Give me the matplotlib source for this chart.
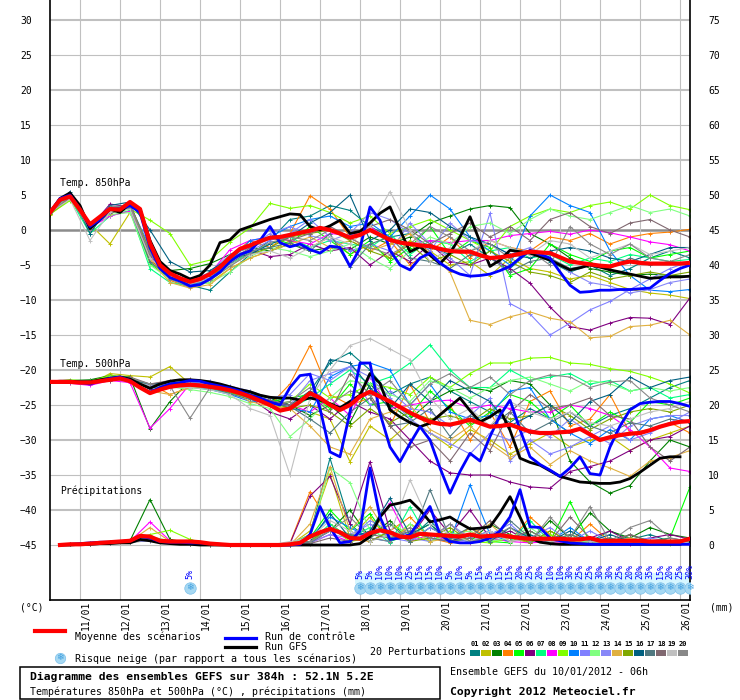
import matplotlib
matplotlib.use("Agg")
import matplotlib.pyplot as plt
from matplotlib.lines import Line2D
from matplotlib.patches import Rectangle

plt.rcParams["font.family"] = ["DejaVu Sans Mono", "DejaVu Sans"]

nan = float("nan")
W, H = 740, 700

# ---- time axes (hours since 10/01/2012 06h) ----
HOURS_6 = list(range(0, 385, 6))
HOURS_6_RR = list(range(6, 385, 6))
HOURS_12 = list(range(0, 385, 12))
HOURS_12_RR = list(range(12, 385, 12))

DAY_HOURS = list(range(18, 385, 24))
DAY_LABELS = ["11/01", "12/01", "13/01", "14/01", "15/01", "16/01", "17/01", "18/01",
              "19/01", "20/01", "21/01", "22/01", "23/01", "24/01", "25/01", "26/01"]

# ---- mean / control / GFS, 6h steps ----
T850_MEAN = [2.5, 4.3, 4.8, 2.9, 0.8, 1.9, 3.0, 2.9, 4.0, 3.0,
             -1.9, -5.0, -6.2, -6.9, -7.4, -7.0, -6.3, -5.3, -3.9, -2.7,
             -2.2, -1.6, -1.1, -1.0, -0.7, -0.4, -0.1, 0.3, 0.0, -0.5,
             -1.1, -0.7, 0.0, -0.7, -1.4, -1.8, -2.0, -2.2, -2.3, -2.7,
             -3.0, -3.1, -3.1, -3.6, -4.0, -3.9, -3.7, -3.4, -3.1, -3.2,
             -3.3, -3.9, -4.5, -4.7, -4.9, -5.1, -5.2, -4.8, -4.5, -4.7,
             -4.8, -4.8, -4.8, -4.8, -4.7]
T850_CTRL = [2.5, 4.5, 5.0, 3.0, 0.5, 1.5, 3.0, 3.0, 3.5, 2.5,
             -2.5, -5.5, -6.8, -7.3, -8.0, -7.8, -7.0, -6.0, -4.5, -3.5,
             -3.0, -1.5, 0.5, -1.8, -2.4, -2.0, -2.8, -3.3, -2.3, -2.5,
             -5.2, -2.6, 3.3, 1.4, -2.9, -5.0, -5.7, -4.0, -3.3, -4.7,
             -5.7, -6.3, -6.6, -6.5, -6.3, -5.8, -5.2, -4.0, -2.9, -3.5,
             -4.0, -6.0, -7.9, -8.9, -8.8, -8.6, -8.6, -8.5, -8.5, -8.4,
             -8.3, -7.2, -6.2, -5.5, -5.0]
T850_GFS = [2.5, 4.5, 5.3, 3.5, 0.2, 1.5, 3.0, 2.5, 3.8, 3.0,
            -1.5, -4.5, -5.8, -6.3, -7.0, -6.5, -5.0, -1.8, -1.4, 0.0,
            0.5, 1.0, 1.5, 1.9, 2.3, 2.2, 0.5, 0.0, 0.6, 1.4,
            -0.5, -0.2, 1.0, 2.4, 3.3, 0.0, -3.1, -2.4, -3.6, -4.8,
            -3.3, -1.0, 1.9, -1.7, -5.2, -4.3, -2.9, -3.1, -3.3, -3.8,
            -4.3, -5.0, -5.7, -5.4, -5.0, -5.3, -5.7, -6.0, -6.3, -6.6,
            -6.9, -6.8, -6.7, -6.7, -6.6]

T500_MEAN = [-21.7, -21.7, -21.7, -21.8, -21.8, -21.6, -21.4, -21.2, -21.6, -22.5,
             -23.3, -22.8, -22.4, -22.2, -22.1, -22.2, -22.4, -22.6, -22.9, -23.3,
             -23.8, -24.4, -25.0, -25.8, -25.5, -24.5, -23.3, -24.0, -25.0, -25.7,
             -25.0, -23.8, -23.1, -23.8, -24.5, -25.3, -26.1, -26.8, -27.4, -27.7,
             -27.8, -27.5, -27.1, -27.6, -28.1, -28.0, -27.8, -28.3, -28.8, -29.0,
             -29.0, -28.9, -28.8, -28.4, -29.2, -30.0, -29.6, -29.3, -29.1, -29.0,
             -28.6, -28.1, -27.7, -27.4, -27.3]
T500_CTRL = [-21.7, -21.7, -21.8, -21.8, -22.0, -21.6, -21.2, -21.0, -21.5, -22.5,
             -23.2, -22.5, -22.0, -21.8, -21.5, -21.6, -22.0, -22.3, -22.6, -23.0,
             -23.6, -24.0, -24.6, -25.0, -22.5, -20.8, -20.6, -25.5, -31.7, -32.4,
             -26.0, -19.0, -19.0, -26.2, -31.0, -33.1, -30.5, -28.1, -30.0, -34.0,
             -37.6, -34.5, -31.9, -33.0, -29.5, -26.5, -24.3, -28.5, -32.4, -33.5,
             -34.3, -35.2, -34.0, -32.4, -34.8, -35.0, -31.0, -28.0, -25.7, -24.8,
             -24.6, -24.5, -24.5, -24.8, -25.2]
T500_GFS = [-21.7, -21.6, -21.6, -21.7, -21.7, -21.4, -21.2, -21.0, -21.3, -22.0,
            -22.6, -22.0, -21.6, -21.4, -21.4, -21.5, -21.7, -22.0, -22.4, -22.8,
            -23.1, -23.6, -23.9, -24.0, -24.0, -24.3, -24.0, -24.3, -24.8, -25.4,
            -24.5, -23.6, -20.5, -21.9, -25.7, -26.7, -27.5, -28.1, -27.6, -26.4,
            -25.2, -24.0, -25.8, -27.4, -26.7, -25.7, -28.6, -32.6, -33.2, -33.6,
            -34.4, -35.2, -35.6, -36.0, -36.1, -36.2, -36.2, -36.0, -35.5, -34.6,
            -33.6, -32.6, -32.4, -32.4, nan]

# precipitation in mm, from +6h
RR_MEAN = [0.0, 0.1, 0.1, 0.2, 0.3, 0.4, 0.5, 0.6, 1.3,
           1.2, 0.6, 0.5, 0.5, 0.5, 0.4, 0.2, 0.1, 0.0, 0.0,
           0.0, 0.0, 0.0, 0.0, 0.1, 0.3, 1.2, 1.8, 2.3, 1.8,
           1.0, 0.9, 1.7, 2.1, 1.8, 1.2, 1.1, 1.6, 1.5, 1.4,
           1.3, 1.2, 1.5, 1.2, 1.3, 1.4, 1.2, 1.0, 0.9, 0.9,
           0.9, 0.9, 0.8, 0.8, 1.0, 0.6, 0.6, 0.6, 0.6, 0.6,
           0.5, 0.5, 0.5, 0.5, 0.9]
RR_CTRL = [0.0, 0.1, 0.2, 0.3, 0.4, 0.4, 0.5, 0.6, 1.2,
           1.0, 0.5, 0.4, 0.4, 0.3, 0.3, 0.2, 0.1, 0.0, 0.0,
           0.0, 0.0, 0.0, 0.0, 0.0, 0.1, 1.5, 5.5, 2.5, 0.3,
           0.5, 2.0, 11.0, 4.0, 0.8, 1.0, 1.5, 3.5, 5.5, 1.5,
           0.5, 0.3, 0.3, 0.5, 1.0, 2.0, 4.0, 7.9, 2.6, 2.5,
           1.0, 0.6, 0.3, 0.2, 0.1, 0.1, 0.1, 0.1, 0.1, 0.1,
           0.1, 0.1, 0.1, 0.1, 0.1]
RR_GFS = [0.0, 0.0, 0.1, 0.1, 0.2, 0.2, 0.3, 0.3, 0.8,
          0.6, 0.3, 0.2, 0.1, 0.1, 0.0, 0.0, 0.0, 0.0, 0.0,
          0.0, 0.0, 0.0, 0.0, 0.0, 0.0, 0.0, 0.0, 0.0, 0.0,
          0.0, 0.2, 1.2, 4.0, 5.7, 6.0, 6.4, 5.0, 3.3, 3.6,
          4.0, 3.1, 2.3, 2.4, 2.6, 4.6, 6.9, 4.0, 1.0, 0.4,
          0.2, 0.1, 0.1, 0.1, 0.1, 0.1, 0.1, 0.1, 0.1, 0.1,
          0.1, 0.1, 0.1, 0.1, nan]

# ---- 20 perturbations, 12h steps ----
MEMBER_IDS = ["%02d" % i for i in range(1, 21)]
MEMBER_COLORS = ["#008080", "#c0c000", "#008000", "#ff8000", "#00ff00",
                 "#800080", "#00ff80", "#ff00ff", "#80ff00", "#0080ff",
                 "#8080ff", "#80ff80", "#8888f8", "#e0b040", "#80a800",
                 "#006080", "#507880", "#806870", "#c0c0c0", "#888888"]

T850_MEMBERS = [
    [2.4, 5.2, 0.2, 2.8, 3.6, -3.5, -6.8, -7.9, -8.6, -6.0, -3.5,
     -1.5, 1.5, 2.0, 3.5, 2.8, 0.5, -1.0, -0.5, -2.5, -3.5, -2.0,
     -4.0, -5.5, -3.0, -4.5, -6.0, -5.0, -6.5, -5.5, -4.0, -3.0, -4.0],
    [2.2, 4.4, 0.8, -2.0, 2.5, -3.0, -6.5, -8.0, -7.5, -5.5, -4.0,
     -3.0, -1.5, -2.5, -1.0, -3.5, -2.0, -4.0, -1.5, -3.0, -5.0, -4.5,
     -6.5, -4.0, -5.5, -6.0, -7.0, -6.5, -7.5, -8.5, -9.0, -9.3, -9.8],
    [2.5, 4.6, 0.0, 3.0, 3.2, -4.5, -5.8, -5.5, -4.8, -3.5, -2.5,
     -3.0, -2.0, -3.0, -2.5, -2.8, -1.0, -2.0, -1.0, 1.0, 2.0, 3.0,
     3.5, 3.2, -0.5, -2.0, -4.0, -5.5, -6.0, -6.5, -6.3, -6.5, -6.6],
    [2.6, 4.8, 0.6, 2.9, 3.8, -4.0, -7.2, -8.2, -7.0, -3.8, -1.5,
     -2.5, -0.5, 4.9, 3.0, -1.0, -3.0, -1.5, -5.0, -3.0, -1.0, -4.0,
     -1.5, -2.5, -3.0, -1.0, -1.5, -0.5, -2.0, -1.0, -0.5, -0.3, 0.1],
    [2.3, 4.9, 1.0, 2.6, 3.0, -4.8, -6.9, -7.6, -6.0, -4.0, -2.0,
     -1.0, -2.0, 0.5, -1.5, -3.5, -1.5, -4.5, -2.5, 0.5, -3.5, -1.5,
     -2.5, -6.5, -5.5, -2.0, -3.5, -4.5, -3.0, -2.5, -4.0, -3.5, -3.0],
    [2.5, 4.7, 0.4, 3.7, 3.3, -3.2, -6.0, -7.5, -6.5, -4.3, -2.8,
     -3.8, -3.5, -2.0, -3.0, -2.5, -5.0, -3.0, -4.5, -2.0, -4.5, -5.0,
     -4.0, -5.5, -7.6, -11.0, -13.8, -14.3, -13.3, -12.5, -12.6, -13.5, -9.7],
    [2.4, 4.5, -0.5, 2.0, 2.8, -5.5, -7.5, -8.0, -7.2, -5.0, -3.2,
     -2.0, -1.0, -2.5, -1.5, -2.0, -2.5, -0.5, -3.5, -1.5, -2.0, -4.5,
     -3.0, -2.5, -4.0, -3.5, -5.0, -4.0, -4.5, -3.5, -4.0, -4.5, -4.2],
    [2.5, 4.6, 0.3, 2.0, 2.7, -3.8, -6.8, -7.0, -6.2, -2.8, -1.5,
     -1.0, -1.5, -2.0, -0.5, -0.8, 0.5, -1.5, -2.0, -1.5, -1.8, -1.5,
     -1.5, -0.8, -0.5, -0.2, -0.6, 0.0, -0.4, -1.0, -1.7, -2.1, -3.0],
    [2.3, 4.2, 0.8, 2.5, 3.0, 1.4, -0.5, -5.0, -4.3, -1.7, 0.3,
     3.8, 3.1, 3.5, 2.5, 1.0, 2.0, -0.5, 0.5, 1.5, 0.0, -1.5,
     -3.0, 0.5, 2.0, 3.0, 2.5, 3.5, 4.0, 3.0, 5.0, 3.5, 2.9],
    [2.6, 5.0, 0.5, 3.2, 3.5, -2.5, -6.5, -8.0, -7.0, -4.5, -1.5,
     -1.0, 0.5, 1.5, 2.0, 0.5, 1.0, -1.0, 2.0, 5.0, 3.0, -1.0,
     -3.0, -5.0, 2.0, 5.0, 3.5, 2.5, -3.0, -6.5, -8.6, -8.8, -8.5],
    [2.4, 4.7, 0.5, 2.7, 3.1, -3.5, -7.0, -7.8, -6.8, -4.5, -3.0,
     -1.5, -0.5, 1.5, -1.0, -3.0, -2.0, -3.0, 1.0, -2.0, -4.0, -6.5,
     2.4, -10.5, -12.0, -15.0, -13.3, -11.4, -10.2, -8.5, -7.0, -5.5, -4.5],
    [2.5, 4.9, 1.0, 2.2, 2.5, -5.0, -7.0, -8.0, -7.5, -6.0, -3.8,
     -2.5, -3.0, -3.8, -3.0, -2.0, -4.0, -5.5, -3.0, -1.0, -2.0, 0.5,
     1.0, -0.5, 1.5, 3.0, 2.0, 1.5, 2.5, 3.5, 2.5, 3.0, 2.0],
    [2.4, 4.8, 0.0, 3.0, 3.6, -2.8, -6.3, -7.5, -6.0, -3.5, -2.5,
     -0.5, 0.5, -0.8, -1.5, -0.5, 2.5, 1.5, -0.5, -3.0, 1.0, -1.5,
     -2.0, -3.5, -2.5, -4.0, -6.0, -7.5, -8.0, -9.0, -8.5, -7.5, -7.0],
    [2.5, 4.5, 0.5, 2.3, 3.4, -4.3, -7.5, -8.3, -7.8, -5.5, -4.0,
     -3.0, -2.0, -1.0, -2.5, -1.5, -3.0, -2.0, -0.5, -3.5, -6.0, -12.9,
     -13.5, -12.4, -11.7, -12.6, -13.1, -15.4, -15.2, -13.8, -13.6, -12.9, -15.0],
    [2.3, 4.6, 0.7, 2.9, 3.7, -3.0, -6.2, -7.3, -6.5, -5.0, -3.5,
     -2.5, -1.0, -0.5, 0.0, -1.5, -3.0, -4.0, -2.0, -4.5, -3.5, -5.0,
     -3.0, -4.5, -6.0, -6.5, -7.5, -6.0, -7.0, -6.5, -6.0, -6.5, -6.0],
    [2.6, 5.5, -0.5, 3.5, 4.0, 0.0, -4.5, -6.0, -5.8, -4.0, -3.5,
     -2.0, -1.0, 1.0, 2.5, 5.0, -1.5, 0.0, 3.0, 2.5, 0.5, -1.0,
     -2.0, -3.5, -4.0, -3.0, -2.5, -3.0, -4.0, -4.5, -3.5, -2.5, -2.5],
    [2.4, 4.7, 0.2, 2.4, 3.2, -4.6, -6.6, -7.8, -7.0, -4.8, -3.0,
     -2.5, -1.8, -3.0, -0.5, -5.3, -2.0, -1.0, -4.0, -4.5, -5.5, -3.5,
     -4.0, -6.0, -4.5, -4.0, -5.5, -5.0, -5.5, -4.0, -5.0, -4.5, -5.0],
    [2.5, 4.6, 0.4, 2.7, 3.9, -3.7, -6.7, -7.5, -6.3, -4.2, -2.6,
     -1.2, -1.5, -0.5, 0.5, -1.0, 0.5, 1.5, 0.0, -2.0, -0.5, 1.0,
     -1.0, 0.5, -1.5, 1.5, 2.5, 0.5, -0.5, 1.0, 1.5, 0.0, -1.0],
    [2.5, 4.4, -1.5, 2.6, 3.0, -4.0, -6.5, -7.7, -7.0, -5.0, -3.5,
     -3.0, -4.0, -2.5, -1.0, -2.0, 0.5, 5.5, 0.0, -4.5, -2.5, -3.0,
     -1.5, -2.5, -3.5, -1.5, -2.0, -4.0, -3.0, -2.0, -3.5, -3.0, -2.5],
    [2.5, 4.8, 0.0, 3.3, 3.5, -3.3, -7.0, -8.2, -7.2, -5.2, -3.3,
     -1.8, -1.0, -1.5, 0.0, -1.2, -2.5, -3.5, -2.0, 0.5, -1.0, -3.0,
     -2.0, -4.0, -3.0, -5.0, 0.5, -2.0, -3.5, -2.0, -4.0, -4.5, -3.5],
]

T500_MEMBERS = [
    [-21.7, -21.6, -21.5, -21.0, -21.3, -22.5, -22.2, -21.8, -22.0, -22.5, -23.3,
     -24.0, -25.0, -23.0, -19.0, -17.5, -20.0, -23.5, -22.0, -21.0, -23.0, -24.5,
     -26.0, -27.5, -25.5, -27.0, -29.0, -28.0, -26.5, -25.5, -24.0, -22.5, -21.5],
    [-21.7, -21.8, -22.0, -20.5, -20.8, -21.0, -19.5, -22.0, -22.3, -23.0, -24.0,
     -25.0, -25.5, -26.0, -27.0, -33.1, -28.0, -30.0, -27.5, -29.0, -31.0, -28.5,
     -30.0, -32.0, -30.5, -29.0, -31.0, -30.0, -29.5, -31.5, -30.0, -29.0, -28.0],
    [-21.7, -21.5, -21.4, -20.8, -21.0, -28.4, -24.5, -21.5, -21.8, -22.8, -23.5,
     -24.0, -25.0, -26.5, -25.0, -27.5, -22.0, -25.0, -27.0, -24.5, -23.0, -22.5,
     -23.0, -21.5, -22.0, -25.0, -33.0, -36.0, -37.6, -36.5, -33.0, -30.0, -31.0],
    [-21.7, -21.5, -21.6, -21.2, -21.5, -22.0, -23.5, -22.5, -22.3, -23.0, -23.8,
     -25.0, -22.0, -16.5, -23.5, -25.0, -24.0, -28.0, -22.0, -27.5, -25.0, -30.0,
     -26.0, -31.0, -24.5, -23.0, -28.0, -27.0, -23.5, -29.0, -28.5, -27.5, -29.0],
    [-21.7, -21.6, -21.7, -21.1, -21.4, -22.3, -22.0, -22.0, -22.5, -23.0, -23.7,
     -24.5, -24.0, -23.5, -25.5, -22.0, -25.0, -24.5, -26.5, -23.0, -25.5, -28.0,
     -26.0, -23.5, -24.5, -27.0, -25.0, -28.0, -26.0, -27.5, -24.5, -25.0, -24.0],
    [-21.7, -21.7, -21.9, -21.0, -21.2, -22.8, -22.5, -22.0, -22.4, -23.0, -24.0,
     -26.0, -27.0, -25.0, -27.0, -24.5, -26.0, -27.0, -30.0, -33.0, -34.7, -35.0,
     -35.0, -36.0, -36.7, -36.9, -34.5, -33.8, -33.0, -31.5, -30.0, -29.5, -28.0],
    [-21.7, -21.6, -21.8, -21.4, -21.6, -22.4, -22.3, -22.5, -22.8, -23.3, -24.0,
     -24.5, -25.5, -24.0, -22.0, -20.0, -22.0, -21.0, -19.0, -16.4, -20.0, -22.5,
     -22.5, -20.0, -21.5, -21.0, -20.5, -22.0, -21.5, -23.0, -22.5, -24.0, -23.5],
    [-21.7, -21.9, -22.2, -21.5, -21.8, -28.3, -25.5, -22.0, -22.5, -23.0, -23.8,
     -24.8, -25.0, -26.0, -24.0, -26.5, -21.0, -25.5, -25.0, -24.5, -24.3, -25.5,
     -25.0, -25.5, -26.0, -26.0, -25.0, -25.5, -26.5, -28.5, -31.0, -34.0, -34.5],
    [-21.7, -21.4, -21.6, -20.8, -21.1, -22.2, -21.8, -21.5, -21.7, -22.5, -23.5,
     -25.0, -24.5, -22.0, -24.0, -23.5, -22.0, -22.5, -23.5, -21.0, -22.5, -20.5,
     -19.0, -19.0, -18.3, -18.2, -19.0, -19.2, -19.8, -20.2, -21.0, -22.0, -23.3],
    [-21.7, -21.5, -21.7, -21.2, -21.5, -22.3, -22.0, -22.3, -22.8, -23.5, -24.5,
     -24.3, -25.5, -26.0, -21.0, -19.5, -19.0, -20.0, -25.0, -22.0, -26.0, -27.0,
     -26.5, -23.0, -22.5, -27.0, -29.0, -30.5, -28.5, -30.0, -27.0, -26.5, -27.5],
    [-21.7, -21.7, -21.9, -21.3, -21.6, -22.5, -22.2, -21.5, -21.6, -22.3, -23.0,
     -24.0, -23.5, -20.5, -21.5, -19.5, -25.0, -23.0, -25.5, -26.0, -28.0, -26.5,
     -24.0, -33.0, -30.0, -32.0, -31.0, -29.5, -28.0, -30.0, -29.0, -27.5, -26.0],
    [-21.7, -21.6, -21.8, -21.0, -21.4, -22.6, -22.4, -22.8, -23.2, -23.8, -24.8,
     -25.5, -29.5, -27.0, -24.0, -21.5, -22.0, -23.5, -24.5, -21.5, -22.5, -24.0,
     -22.5, -21.5, -21.0, -22.0, -23.0, -21.5, -22.0, -23.0, -22.5, -23.0, -22.5],
    [-21.7, -21.7, -21.8, -21.2, -21.4, -22.2, -22.0, -21.8, -22.0, -22.8, -23.5,
     -24.5, -25.0, -21.5, -20.5, -19.5, -21.0, -24.0, -27.0, -29.0, -30.5, -32.0,
     -29.0, -30.0, -28.5, -29.5, -27.0, -29.0, -30.5, -28.0, -27.0, -26.5, -26.5],
    [-21.7, -21.5, -21.6, -21.3, -21.5, -23.0, -23.5, -22.5, -22.4, -23.0, -24.5,
     -25.2, -25.5, -28.0, -31.0, -32.0, -27.0, -26.0, -25.0, -28.5, -30.0, -28.0,
     -30.5, -32.5, -31.0, -33.5, -31.5, -33.0, -34.0, -35.2, -33.0, -32.5, -31.5],
    [-21.7, -21.6, -21.7, -21.1, -21.3, -22.4, -22.1, -22.3, -22.6, -23.2, -24.0,
     -24.5, -25.5, -25.0, -26.0, -28.0, -25.5, -27.5, -26.0, -27.0, -26.5, -27.5,
     -25.5, -27.0, -26.5, -25.0, -26.5, -28.5, -27.0, -26.0, -25.5, -26.0, -25.0],
    [-21.7, -21.5, -21.6, -21.3, -21.4, -22.0, -21.8, -22.0, -22.5, -23.0, -23.8,
     -24.5, -25.0, -24.0, -18.5, -19.0, -22.5, -25.5, -22.0, -24.5, -21.5, -23.0,
     -24.5, -28.0, -26.5, -25.0, -27.5, -24.5, -23.5, -21.0, -22.5, -21.5, -21.0],
    [-21.7, -21.6, -21.8, -21.2, -21.6, -22.5, -22.3, -22.1, -22.5, -23.4, -24.2,
     -24.8, -25.2, -27.0, -29.0, -26.0, -24.0, -28.0, -27.5, -25.5, -29.5, -26.5,
     -28.0, -26.0, -29.0, -27.5, -26.0, -28.0, -29.0, -27.5, -28.0, -27.0, -27.5],
    [-21.7, -21.7, -21.9, -21.5, -21.0, -22.0, -21.5, -21.3, -21.8, -22.4, -23.5,
     -24.3, -25.0, -23.5, -26.0, -20.5, -23.5, -28.0, -31.0, -30.0, -33.0, -29.0,
     -31.5, -26.0, -23.5, -25.5, -25.0, -24.0, -26.5, -27.0, -31.0, -33.0, -31.0],
    [-21.7, -21.6, -21.7, -21.2, -21.5, -22.3, -22.5, -22.5, -22.8, -23.5, -25.5,
     -26.5, -35.0, -24.0, -20.0, -16.5, -15.5, -17.0, -18.5, -24.0, -27.0, -25.5,
     -28.0, -24.5, -26.0, -27.0, -26.0, -27.5, -28.0, -27.0, -26.0, -25.5, -24.5],
    [-21.7, -21.6, -21.7, -21.0, -21.2, -22.0, -22.3, -26.9, -22.5, -23.0, -23.5,
     -25.0, -24.5, -22.5, -25.0, -23.0, -23.5, -21.5, -25.0, -22.0, -20.5, -22.5,
     -21.0, -23.5, -21.5, -20.7, -21.0, -22.5, -21.7, -21.5, -24.0, -25.0, -26.0],
]

RR_MEMBERS = [
    [0.1, 0.2, 0.3, 0.5, 0.8, 0.4, 0.2, 0.0, 0.0, 0.0, 0.0, 0.1, 1.5, 12.4, 3.0, 0.5,
     2.0, 1.0, 3.5, 0.5, 1.0, 2.0, 0.5, 1.5, 0.3, 1.0, 0.5, 2.0, 0.8, 1.5, 0.5, 0.3],
    [0.1, 0.3, 0.5, 0.4, 0.6, 0.5, 0.3, 0.1, 0.0, 0.0, 0.0, 0.0, 2.0, 10.2, 1.0, 4.0,
     0.5, 3.0, 1.5, 0.8, 2.5, 0.5, 1.0, 0.3, 2.0, 0.5, 0.3, 1.0, 0.2, 0.5, 0.3, 0.2],
    [0.1, 0.2, 0.4, 0.6, 6.5, 0.8, 0.3, 0.1, 0.0, 0.0, 0.0, 0.0, 0.5, 2.0, 5.0, 1.0,
     3.5, 0.5, 2.5, 1.0, 0.5, 3.0, 1.5, 0.5, 3.5, 1.0, 4.6, 2.0, 1.0, 2.5, 1.5, 1.0],
    [0.2, 0.3, 0.4, 0.5, 1.0, 0.5, 0.2, 0.0, 0.0, 0.0, 0.0, 0.3, 7.6, 3.0, 1.0, 0.5,
     2.0, 4.0, 1.0, 0.3, 2.5, 1.0, 0.5, 4.0, 1.5, 0.5, 3.0, 0.5, 1.0, 0.3, 0.5, 0.2],
    [0.1, 0.2, 0.3, 0.5, 0.7, 0.6, 0.3, 0.1, 0.0, 0.0, 0.0, 0.0, 1.0, 5.0, 2.0, 4.5,
     0.5, 1.5, 3.0, 0.5, 1.0, 0.5, 0.3, 2.0, 0.5, 6.2, 0.3, 1.0, 0.3, 0.5, 1.0, 8.3],
    [0.1, 0.2, 0.3, 0.5, 0.9, 0.5, 0.2, 0.0, 0.0, 0.0, 0.0, 0.2, 7.0, 9.8, 3.0, 11.9,
     2.0, 1.0, 5.0, 1.5, 5.0, 1.0, 2.0, 0.5, 1.0, 0.5, 1.0, 2.0, 0.5, 1.0, 1.5, 0.8],
    [0.1, 0.3, 0.4, 0.5, 0.8, 0.5, 0.2, 0.0, 0.0, 0.0, 0.0, 0.0, 0.5, 3.0, 1.0, 2.5,
     0.3, 5.5, 0.5, 2.0, 0.5, 1.0, 0.5, 3.5, 0.5, 1.5, 0.3, 0.5, 1.0, 0.3, 0.5, 0.3],
    [0.1, 0.2, 0.3, 0.5, 3.3, 0.6, 0.3, 0.1, 0.0, 0.0, 0.0, 0.0, 0.3, 1.5, 0.5, 2.0,
     6.0, 0.5, 1.5, 0.5, 0.3, 1.0, 0.5, 0.3, 0.5, 0.3, 0.5, 0.3, 0.2, 0.3, 0.5, 0.3],
    [0.1, 0.2, 0.4, 0.6, 1.5, 2.1, 0.8, 0.1, 0.0, 0.0, 0.0, 0.0, 0.5, 2.5, 0.5, 1.0,
     3.0, 1.5, 0.5, 2.0, 0.5, 0.3, 1.0, 0.5, 1.5, 0.3, 0.5, 0.3, 1.0, 0.3, 0.2, 0.3],
    [0.1, 0.2, 0.3, 0.4, 0.7, 0.4, 0.2, 0.0, 0.0, 0.0, 0.0, 0.0, 1.0, 4.0, 2.5, 1.0,
     0.5, 2.0, 1.0, 0.5, 8.6, 1.5, 0.5, 1.0, 0.5, 2.5, 0.5, 0.3, 1.5, 0.5, 0.3, 0.2],
    [0.1, 0.2, 0.3, 0.5, 0.8, 0.5, 0.2, 0.0, 0.0, 0.0, 0.0, 0.1, 0.5, 2.0, 1.5, 3.0,
     1.0, 0.5, 2.5, 1.0, 0.5, 1.5, 3.0, 0.5, 1.0, 0.5, 2.0, 0.5, 1.0, 0.3, 0.5, 0.5],
    [0.1, 0.3, 0.4, 0.5, 1.2, 0.6, 0.3, 0.1, 0.0, 0.0, 0.0, 0.0, 1.5, 11.0, 8.9, 2.0,
     1.0, 3.0, 0.5, 1.5, 2.0, 0.5, 1.0, 2.5, 0.5, 1.0, 0.3, 0.5, 0.8, 0.5, 0.3, 0.3],
    [0.1, 0.2, 0.3, 0.4, 0.6, 0.5, 0.2, 0.0, 0.0, 0.0, 0.0, 0.0, 0.3, 1.5, 1.0, 3.5,
     2.0, 1.0, 0.5, 3.0, 1.0, 2.0, 0.5, 1.0, 2.5, 0.5, 1.0, 0.3, 0.5, 1.0, 0.5, 0.3],
    [0.1, 0.3, 0.5, 0.5, 2.5, 0.5, 0.2, 0.0, 0.0, 0.0, 0.0, 0.0, 3.0, 11.2, 2.0, 5.5,
     1.0, 2.5, 0.5, 1.0, 1.5, 3.0, 0.5, 1.0, 0.5, 1.5, 0.5, 0.3, 1.0, 0.5, 0.3, 0.3],
    [0.1, 0.2, 0.4, 0.6, 0.9, 0.5, 0.2, 0.1, 0.0, 0.0, 0.0, 0.0, 0.5, 2.5, 1.5, 0.5,
     2.0, 0.5, 1.0, 2.5, 0.5, 1.0, 1.5, 0.3, 2.0, 0.5, 1.0, 0.3, 1.5, 0.5, 0.3, 0.5],
    [0.1, 0.2, 0.3, 0.5, 1.0, 0.6, 0.3, 0.0, 0.0, 0.0, 0.0, 0.0, 0.5, 4.5, 1.0, 2.0,
     6.7, 1.5, 3.0, 0.5, 1.5, 0.5, 2.5, 1.0, 0.5, 2.0, 0.5, 1.5, 0.5, 0.3, 0.5, 0.3],
    [0.1, 0.2, 0.4, 0.4, 0.8, 0.5, 0.2, 0.0, 0.0, 0.0, 0.0, 0.0, 0.3, 2.0, 1.5, 1.0,
     3.0, 0.5, 7.9, 1.0, 2.5, 0.5, 3.5, 1.0, 0.5, 1.5, 0.5, 1.0, 0.3, 0.5, 1.0, 0.5],
    [0.1, 0.2, 0.3, 0.5, 0.7, 0.4, 0.2, 0.0, 0.0, 0.0, 0.0, 0.0, 0.2, 1.0, 0.5, 1.5,
     1.0, 2.0, 1.0, 0.5, 1.0, 3.5, 1.0, 2.0, 0.5, 4.0, 1.0, 0.5, 1.5, 0.5, 0.5, 0.3],
    [0.1, 0.3, 0.4, 0.5, 0.9, 0.5, 0.3, 0.0, 0.0, 0.0, 0.0, 0.5, 1.0, 3.5, 2.0, 0.5,
     1.5, 9.3, 3.0, 1.5, 0.5, 2.0, 0.5, 1.0, 0.5, 1.0, 0.5, 0.3, 0.5, 0.3, 0.5, 0.3],
    [0.1, 0.2, 0.3, 0.5, 0.8, 0.5, 0.2, 0.0, 0.0, 0.0, 0.0, 0.0, 0.5, 2.0, 4.0, 1.0,
     0.5, 2.5, 1.0, 3.0, 0.5, 1.0, 2.5, 0.5, 4.0, 1.0, 5.5, 0.5, 2.5, 3.5, 1.0, 0.5],
]

# snow risk (% of scenarios)
SNOW_HOURS = [84] + list(range(186, 385, 6))
SNOW_PCT = [5,
            5, 5, 10, 10, 10, 25, 15, 15, 10, 5, 10, 5, 15, 5, 15, 15, 20,
            25, 20, 10, 10, 30, 25, 25, 30, 30, 25, 20, 20, 35, 15, 20, 25, 30]

RR_ZERO = -45   # precipitation baseline on the temperature scale


def fx(x):
    return x / W


def fy(y):
    return 1 - y / H


fig = plt.figure(figsize=(W / 100, H / 100), dpi=100)
ax = fig.add_axes([fx(50), fy(600), 640 / W, 600 / H])
ax.set_xlim(0, 384)
ax.set_ylim(-370 / 7, 230 / 7)

# grid
for v in range(-45, 31, 5):
    if v == 0:
        ax.axhline(v, color="#8c8c8c", lw=1.8, zorder=0.5)
    else:
        ax.axhline(v, color="#c0c0c0", lw=1.5 if v % 10 == 0 else 0.8, zorder=0.5)
for h in DAY_HOURS:
    ax.axvline(h, color="#c0c0c0", lw=0.8, zorder=0.5)

# perturbations
for i in range(20):
    c = MEMBER_COLORS[i]
    kw = dict(color=c, lw=0.8, marker="+", ms=3, mew=0.7, zorder=2)
    ax.plot(HOURS_12, T850_MEMBERS[i], **kw)
    ax.plot(HOURS_12, T500_MEMBERS[i], **kw)
    ax.plot(HOURS_12_RR, [RR_ZERO + r for r in RR_MEMBERS[i]], **kw)

# GFS, control, mean
for t850, t500, rr, c, lw, z in [
        (T850_GFS, T500_GFS, RR_GFS, "black", 2.0, 3),
        (T850_CTRL, T500_CTRL, RR_CTRL, "#0000ff", 2.0, 4),
        (T850_MEAN, T500_MEAN, RR_MEAN, "#ff0000", 3.0, 5)]:
    ax.plot(HOURS_6, t850, color=c, lw=lw, zorder=z, solid_joinstyle="round")
    ax.plot(HOURS_6, t500, color=c, lw=lw, zorder=z, solid_joinstyle="round")
    ax.plot(HOURS_6_RR, [RR_ZERO + r for r in rr], color=c, lw=lw, zorder=z,
            solid_joinstyle="round")

ax.text(6, 6.7, "Temp. 850hPa", fontsize=7, va="center", zorder=6)
ax.text(6, -19.1, "Temp. 500hPa", fontsize=7, va="center", zorder=6)
ax.text(6, -37.3, "Précipitations", fontsize=7, va="center", zorder=6)

# snow risk row
ax.add_patch(Rectangle((183, -50.6), 204, 1.6, color="#d6f6ff", lw=0, zorder=1))
for h, p in zip(SNOW_HOURS, SNOW_PCT):
    ax.scatter([h], [-51.1], s=68, color="#a6d8f2", edgecolors="#7cc0ea",
               linewidths=0.5, zorder=6)
    ax.text(h, -51.1, "❄", fontsize=6.5, color="#3f9fe0", ha="center", va="center",
            family=["DejaVu Sans"], zorder=7)
    ax.text(h, -49.9, "%d%%" % p, rotation=90, fontsize=6, color="#0000ff",
            ha="center", va="bottom", zorder=7)

# axes / ticks
ax.set_xticks([])
ax.set_yticks(list(range(-45, 31, 5)))
ax.tick_params(axis="y", length=0, pad=21.6, labelsize=7)
for lbl in ax.get_yticklabels():
    lbl.set_ha("left")
ax.spines["top"].set_visible(False)
for s in ["left", "right", "bottom"]:
    ax.spines[s].set_linewidth(1.2)

ax2 = ax.twinx()
ax2.set_ylim(ax.get_ylim())
ax2.set_yticks(list(range(-45, 31, 5)))
ax2.set_yticklabels([str(v + 45) for v in range(-45, 31, 5)])
ax2.tick_params(axis="y", length=0, pad=13, labelsize=7)
for s in ax2.spines.values():
    s.set_visible(False)

for h, lab in zip(DAY_HOURS, DAY_LABELS):
    ax.text(h + 3.6, -53.0, lab, rotation=90, fontsize=7, ha="center", va="top")

fig.text(fx(20), fy(607), "(°C)", fontsize=7, va="center")
fig.text(fx(710), fy(607), "(mm)", fontsize=7, va="center")

# legend
fig.add_artist(Line2D([fx(35), fx(65)], [fy(631), fy(631)], color="#ff0000", lw=3.0))
fig.text(fx(75), fy(637), "Moyenne des scénarios", fontsize=7.2, va="center")
fig.add_artist(Line2D([fx(225), fx(256)], [fy(637.5), fy(637.5)], color="#0000ff", lw=2.3))
fig.text(fx(265), fy(637), "Run de contrôle", fontsize=7.2, va="center")
fig.add_artist(Line2D([fx(225), fx(256)], [fy(646.5), fy(646.5)], color="black", lw=2.3))
fig.text(fx(265), fy(647), "Run GFS", fontsize=7.2, va="center")
fig.add_artist(Line2D([fx(60)], [fy(658)], marker="o", ms=7.5, color="#a6d8f2",
                      mec="#7cc0ea", mew=0.5, lw=0))
fig.text(fx(60), fy(658), "❄", fontsize=6.5, color="#3f9fe0", ha="center", va="center",
         family=["DejaVu Sans"])
fig.text(fx(75), fy(659), "Risque neige (par rapport a tous les scénarios)",
         fontsize=7.2, va="center")

fig.text(fx(370), fy(652), "20 Perturbations", fontsize=7.2, va="center")
for i in range(20):
    x0 = 470 + 10.95 * i
    fig.add_artist(Rectangle((fx(x0), fy(656)), 10 / W, 6 / H,
                             color=MEMBER_COLORS[i], lw=0))
    fig.text(fx(x0 + 5), fy(643.5), MEMBER_IDS[i], fontsize=5, weight="bold",
             ha="center", va="center")

fig.add_artist(Rectangle((fx(20), fy(699)), 420 / W, 32 / H, fill=False,
                         ec="black", lw=1.1))
fig.text(fx(30), fy(677), "Diagramme des ensembles GEFS sur 384h : 52.1N 5.2E",
         fontsize=8.2, weight="bold", va="center")
fig.text(fx(30), fy(692), "Températures 850hPa et 500hPa (°C) , précipitations (mm)",
         fontsize=7.1, va="center")
fig.text(fx(450), fy(672), "Ensemble GEFS du 10/01/2012 - 06h", fontsize=7.2, va="center")
fig.text(fx(450), fy(692), "Copyright 2012 Meteociel.fr", fontsize=8.2,
         weight="bold", va="center")

fig.savefig("out.png", dpi=100, facecolor="white")
